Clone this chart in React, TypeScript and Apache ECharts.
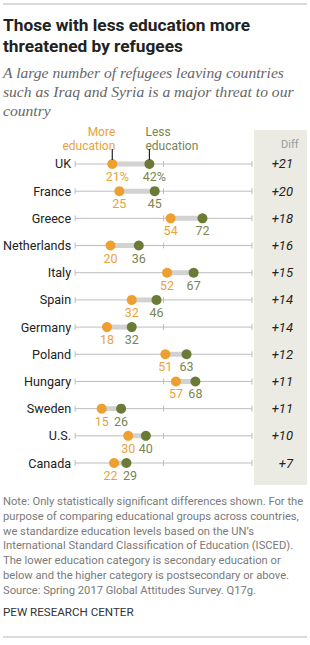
import React, { useEffect, useRef } from "react";
import * as echarts from "echarts";

// Share saying refugees are a major threat, by education level (%)
const countries = ["UK", "France", "Greece", "Netherlands", "Italy", "Spain", "Germany", "Poland", "Hungary", "Sweden", "U.S.", "Canada"];
const moreEducation = [21, 25, 54, 20, 52, 32, 18, 51, 57, 15, 30, 22];
const lessEducation = [42, 45, 72, 36, 67, 46, 32, 63, 68, 26, 40, 29];
const axisTicks = [0, 50, 100];

const titleText = "Those with less education more\nthreatened by refugees";
const subtitleText = "A large number of refugees leaving countries\nsuch as Iraq and Syria is a major threat to our\ncountry";
const noteText =
  "Note: Only statistically significant differences shown. For the\npurpose of comparing educational groups across countries,\nwe standardize education levels based on the UN\u2019s\nInternational Standard Classification of Education (ISCED).\nThe lower education category is secondary education or\nbelow and the higher category is postsecondary or above.\nSource: Spring 2017 Global Attitudes Survey. Q17g.";
const sourceText = "PEW RESEARCH CENTER";

const ORANGE = "#EDA02F";
const ORANGE_TEXT = "#E9A23B";
const OLIVE = "#6B7A36";
const OLIVE_TEXT = "#7A8451";
const SANS = "Roboto, 'Liberation Sans', Arial, sans-serif";
const VALUE_FONT = 12.5;

const diffs = countries.map((_, i) => lessEducation[i] - moreEducation[i]);

// Horizontal nudge for a value label: the first row carries a % sign that
// hangs off the centred number; labels of dots sitting close together are
// pushed apart a little.
function labelShift(i: number, side: -1 | 1) {
  const gap = lessEducation[i] - moreEducation[i];
  let dx = 0;
  if (i === 0) dx += 5;
  if (gap < 9) dx += side * 3.5;
  return dx;
}

export default function App() {
  const ref = useRef<HTMLDivElement>(null);

  useEffect(() => {
    document.body.style.margin = "0";
    if (!ref.current) return;
    const chart = echarts.init(ref.current, null, { renderer: "svg" });

    const baseGraphic: any[] = [
      { type: "line", shape: { x1: 3, y1: 4, x2: 307, y2: 4 }, style: { stroke: "#b5b5b5", lineWidth: 1 } },
      { type: "rect", shape: { x: 254, y: 130, width: 53, height: 355 }, style: { fill: "#EBEBE3" }, z: -10 },
      {
        type: "text", left: 3, top: 15,
        style: { text: titleText, fontFamily: SANS, fontWeight: "bold", fontSize: 17.3, lineHeight: 20.5, fill: "#222" },
      },
      {
        type: "text", left: 3, top: 63,
        style: { text: subtitleText, fontFamily: "'Liberation Serif', 'DejaVu Serif', serif", fontStyle: "italic", fontSize: 15.6, lineHeight: 19, fill: "#666" },
      },
      {
        type: "text", left: 281, top: 139,
        style: { text: "Diff", fontFamily: SANS, fontSize: 11, fill: "#999", align: "center" },
      },
      {
        type: "text", left: 3, top: 494,
        style: { text: noteText, fontFamily: SANS, fontSize: 11.2, lineHeight: 14.8, fill: "#7a7a7a" },
      },
      {
        type: "text", left: 3, top: 606,
        style: { text: sourceText, fontFamily: SANS, fontSize: 11.6, fill: "#333" },
      },
      { type: "line", shape: { x1: 3, y1: 637, x2: 307, y2: 637 }, style: { stroke: "#b5b5b5", lineWidth: 1 } },
    ];

    const dotSeries = (name: string, values: number[], color: string, textColor: string, side: -1 | 1) => ({
      type: "scatter",
      name,
      symbolSize: 10,
      itemStyle: { color, opacity: 1 },
      data: values.map((v, i) => [v, i]),
      label: {
        show: true,
        position: "bottom",
        distance: 1,
        color: textColor,
        fontFamily: SANS,
        fontSize: VALUE_FONT,
        formatter: (p: any) => p.value[0] + (p.dataIndex === 0 ? "%" : ""),
      },
      labelLayout: (p: any) => ({ dx: labelShift(p.dataIndex, side), hideOverlap: false }),
      z: 3,
    });

    const option: any = {
      animation: false,
      grid: { left: 66, right: 58, top: 150.4, bottom: 168.4, containLabel: false },
      xAxis: { type: "value", min: 0, max: 100, show: false },
      yAxis: [
        {
          type: "category",
          data: countries,
          inverse: true,
          axisLine: { show: false },
          axisTick: { show: false },
          splitLine: { show: false },
          axisLabel: { margin: 4, color: "#222", fontFamily: SANS, fontSize: 12.6 },
        },
        {
          type: "category",
          position: "right",
          data: diffs.map((d) => "+" + d),
          inverse: true,
          axisLine: { show: false },
          axisTick: { show: false },
          splitLine: { show: false },
          axisLabel: { margin: 41, align: "right", color: "#222", fontFamily: SANS, fontSize: 13, fontStyle: "italic" },
        },
      ],
      series: [
        {
          type: "custom",
          yAxisIndex: 0,
          encode: { y: 0, x: [1, 2] },
          data: countries.map((_, i) => [i, moreEducation[i], lessEducation[i]]),
          renderItem: (params: any, api: any) => {
            const idx = api.value(0);
            const y = api.coord([0, idx])[1];
            const xs = axisTicks.map((t) => api.coord([t, idx])[0]);
            const xMore = api.coord([api.value(1), idx])[0];
            const xLess = api.coord([api.value(2), idx])[0];
            const children: any[] = [
              { type: "line", shape: { x1: xs[0], y1: y, x2: xs[xs.length - 1], y2: y }, style: { stroke: "#bdbdbd", lineWidth: 1 } },
            ];
            xs.forEach((x) => {
              children.push({ type: "line", shape: { x1: x, y1: y - 3, x2: x, y2: y + 3 }, style: { stroke: "#bdbdbd", lineWidth: 1 } });
            });
            children.push({ type: "line", shape: { x1: xMore, y1: y, x2: xLess, y2: y }, style: { stroke: "#d2d2d2", lineWidth: 5 } });
            return { type: "group", children };
          },
          z: 1,
        },
        dotSeries("More education", moreEducation, ORANGE, ORANGE_TEXT, -1),
        dotSeries("Less education", lessEducation, OLIVE, OLIVE_TEXT, 1),
      ],
    };

    chart.setOption(option);

    // Legend labels with leader lines pointing at the first row's dots
    const pMore = chart.convertToPixel({ xAxisIndex: 0, yAxisIndex: 0 }, [moreEducation[0], 0]) as number[];
    const pLess = chart.convertToPixel({ xAxisIndex: 0, yAxisIndex: 0 }, [lessEducation[0], 0]) as number[];
    const leaderTop = pMore[1] - 15;
    const legendGraphic: any[] = [
      {
        type: "text", x: pMore[0] + 3, y: leaderTop - 24,
        style: { text: "More\neducation", fontFamily: SANS, fontSize: 12, lineHeight: 14, fill: ORANGE_TEXT, align: "right", verticalAlign: "top" },
      },
      {
        type: "text", x: pLess[0] - 4, y: leaderTop - 24,
        style: { text: "Less\neducation", fontFamily: SANS, fontSize: 12, lineHeight: 14, fill: OLIVE_TEXT, align: "left", verticalAlign: "top" },
      },
      { type: "line", shape: { x1: pMore[0], y1: leaderTop, x2: pMore[0], y2: pMore[1] - 4 }, style: { stroke: "#222", lineWidth: 1.2 }, z: 5 },
      { type: "line", shape: { x1: pLess[0], y1: leaderTop, x2: pLess[0], y2: pLess[1] - 4 }, style: { stroke: "#222", lineWidth: 1.2 }, z: 5 },
    ];

    chart.setOption({ graphic: [...baseGraphic, ...legendGraphic] });

    return () => chart.dispose();
  }, []);

  return <div ref={ref} style={{ width: 310, height: 645 }} />;
}
